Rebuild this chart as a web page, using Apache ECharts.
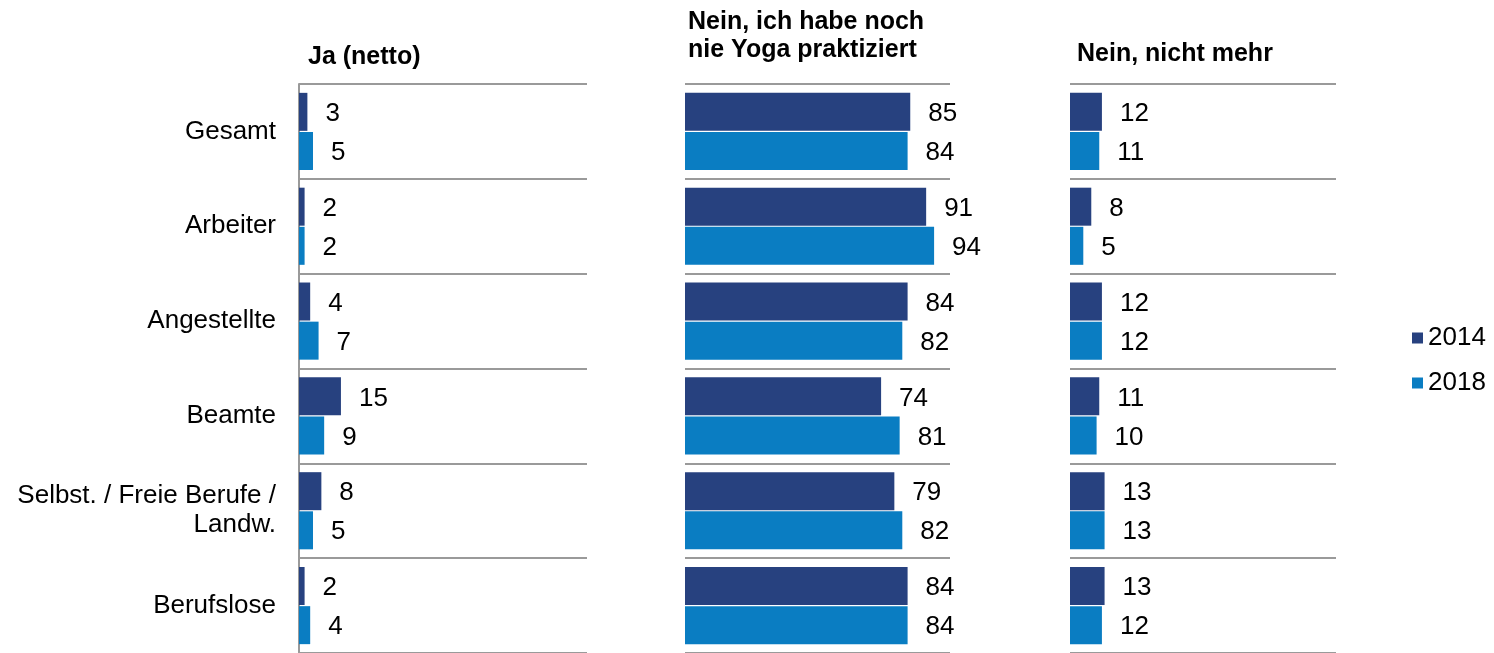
<!DOCTYPE html>
<html>
<head>
<meta charset="utf-8">
<script src="https://cdn.jsdelivr.net/npm/echarts@6/dist/echarts.min.js"></script>
<style>
  html, body { margin: 0; padding: 0; background: #fff; }
  #chart { width: 1494px; height: 653px; }
</style>
</head>
<body>
<div id="chart"></div>
<script>
// Berufsgruppen (rows, top to bottom)
const categories = ['Gesamt', 'Arbeiter', 'Angestellte', 'Beamte', 'Selbst. / Freie Berufe /\nLandw.', 'Berufslose'];
const years = ['2014', '2018'];

// Panel headings
const panelTitles = ['Ja (netto)', 'Nein, ich habe noch\nnie Yoga praktiziert', 'Nein, nicht mehr'];

// Percent values per panel and year
const ja2014 = [3, 2, 4, 15, 8, 2];
const ja2018 = [5, 2, 7, 9, 5, 4];
const nie2014 = [85, 91, 84, 74, 79, 84];
const nie2018 = [84, 94, 82, 81, 82, 84];
const nichtMehr2014 = [12, 8, 12, 11, 13, 13];
const nichtMehr2018 = [11, 5, 12, 10, 13, 12];

const colors = ['#27417F', '#0A7DC2'];
const font = 'Liberation Sans, Arial, sans-serif';
const gridColor = '#9A9A9A';

const panels = [
  { left: 299, width: 288, max: 103, data: [ja2014, ja2018], titleX: 308, titleY: 43 },
  { left: 685, width: 265, max: 100, data: [nie2014, nie2018], titleX: 688, titleY: 8 },
  { left: 1070, width: 266, max: 100, data: [nichtMehr2014, nichtMehr2018], titleX: 1077, titleY: 40 }
];

const grid = [], xAxis = [], yAxis = [], series = [], title = [];
panels.forEach((p, i) => {
  grid.push({ left: p.left, width: p.width, top: 84, height: 569, containLabel: false });
  xAxis.push({ type: 'value', gridIndex: i, min: 0, max: p.max, show: false });
  yAxis.push({
    type: 'category', gridIndex: i, data: categories, inverse: true,
    axisLine: { show: i === 0, lineStyle: { color: gridColor, width: 2 } },
    axisTick: { show: false },
    axisLabel: {
      show: i === 0, color: '#000', fontSize: 26, fontFamily: font,
      margin: 23, align: 'right', lineHeight: 29
    },
    splitLine: { show: true, lineStyle: { color: gridColor, width: 2 } }
  });
  title.push({
    text: panelTitles[i], left: p.titleX, top: p.titleY, padding: 0,
    textStyle: { fontSize: 25, fontWeight: 'bold', color: '#000', fontFamily: font, lineHeight: 28 }
  });
  years.forEach((y, k) => {
    series.push({
      name: y, type: 'bar', xAxisIndex: i, yAxisIndex: i,
      data: p.data[k], barWidth: 38, barGap: '3%',
      itemStyle: { color: colors[k] },
      label: {
        show: true, position: 'right', distance: 18, offset: [0, 2],
        color: '#000', fontSize: 26, fontFamily: font
      }
    });
  });
});

const chart = echarts.init(document.getElementById('chart'), null, { renderer: 'canvas' });
chart.setOption({
  animation: false,
  color: colors,
  title,
  grid, xAxis, yAxis, series,
  legend: {
    data: years, orient: 'vertical', left: 1412, top: 325, padding: 0,
    icon: 'rect', itemWidth: 11, itemHeight: 11, itemGap: 19,
    textStyle: { fontSize: 26, lineHeight: 26, color: '#000', fontFamily: font }
  }
});
</script>
</body>
</html>
